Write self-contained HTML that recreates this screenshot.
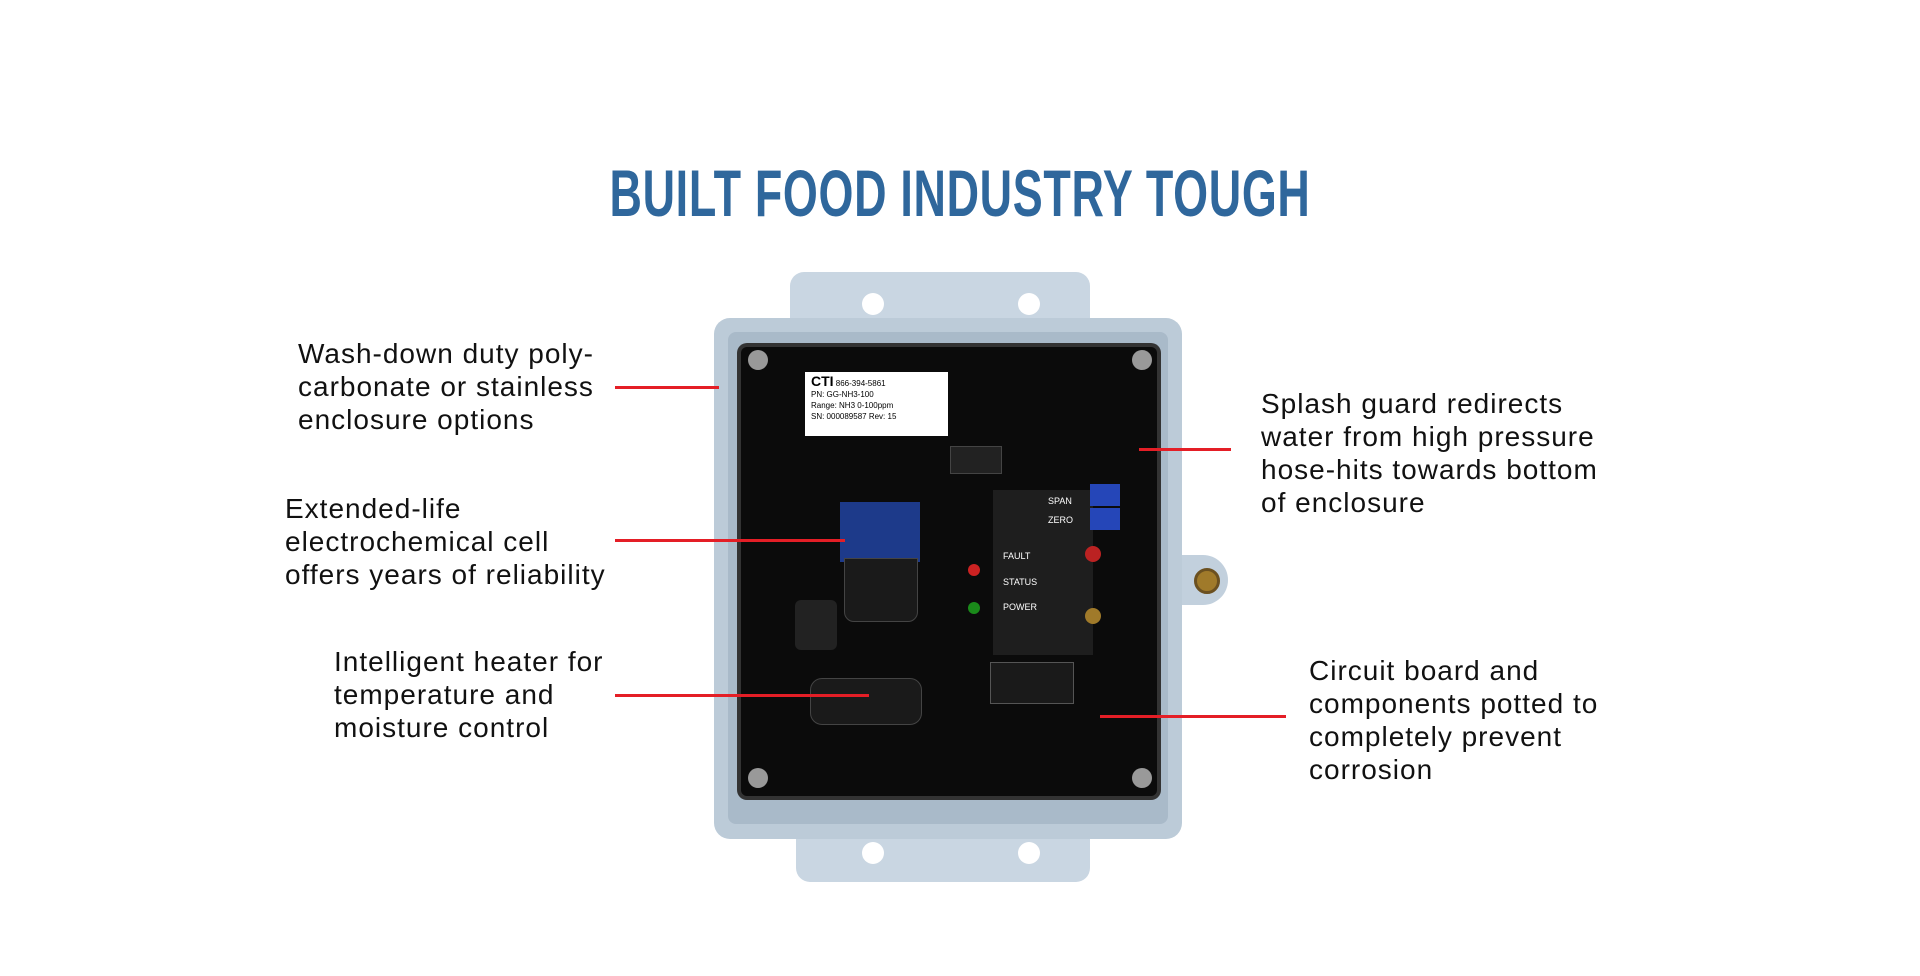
<!DOCTYPE html>
<html><head><meta charset="utf-8"><style>
body{margin:0;width:1920px;height:976px;background:#fff;position:relative;overflow:hidden;font-family:"Liberation Sans",sans-serif}
.t{position:absolute;font-size:28px;line-height:33px;color:#111;white-space:nowrap;letter-spacing:1px}
.r{position:absolute;height:3px;background:#e41e26}
.a{position:absolute}
</style></head><body>
<div class="a" style="left:0;width:1920px;top:155px;text-align:center;font-family:'Liberation Sans Narrow','Liberation Sans',sans-serif;font-size:66px;font-weight:bold;color:#2f679c;transform:scaleX(0.68);letter-spacing:1px">BUILT FOOD INDUSTRY TOUGH</div>

<!-- enclosure -->
<div class="a" style="left:790px;top:272px;width:300px;height:70px;background:#c9d6e2;border-radius:14px 14px 0 0"></div>
<div class="a" style="left:862px;top:293px;width:22px;height:22px;background:#fff;border-radius:50%"></div>
<div class="a" style="left:1018px;top:293px;width:22px;height:22px;background:#fff;border-radius:50%"></div>
<div class="a" style="left:796px;top:820px;width:294px;height:62px;background:#c9d6e2;border-radius:0 0 14px 14px"></div>
<div class="a" style="left:862px;top:842px;width:22px;height:22px;background:#fff;border-radius:50%"></div>
<div class="a" style="left:1018px;top:842px;width:22px;height:22px;background:#fff;border-radius:50%"></div>
<div class="a" style="left:1170px;top:555px;width:58px;height:50px;background:#c2d0dd;border-radius:0 25px 25px 0"></div>
<div class="a" style="left:1194px;top:568px;width:20px;height:20px;background:#a07a2a;border-radius:50%;border:3px solid #6b5020"></div>
<div class="a" style="left:714px;top:318px;width:468px;height:521px;background:#bccbd8;border-radius:16px"></div>
<div class="a" style="left:728px;top:332px;width:440px;height:492px;background:#a9bac9;border-radius:8px"></div>
<div class="a" style="left:741px;top:347px;width:416px;height:449px;background:#0b0b0b;border-radius:6px;box-shadow:0 0 0 4px #333"></div>
<div class="a" style="left:748px;top:350px;width:20px;height:20px;background:#999;border-radius:50%"></div>
<div class="a" style="left:1132px;top:350px;width:20px;height:20px;background:#999;border-radius:50%"></div>
<div class="a" style="left:748px;top:768px;width:20px;height:20px;background:#999;border-radius:50%"></div>
<div class="a" style="left:1132px;top:768px;width:20px;height:20px;background:#999;border-radius:50%"></div>
<!-- label -->
<div class="a" style="left:805px;top:372px;width:143px;height:64px;background:#fff;font-size:8px;line-height:11px;padding:4px 6px;box-sizing:border-box;color:#000"><b style="font-size:14px">CTI</b> 866-394-5861<br>PN: GG-NH3-100<br>Range: NH3 0-100ppm<br>SN: 000089587 Rev: 15</div>
<!-- sensor -->
<div class="a" style="left:840px;top:502px;width:80px;height:60px;background:#1d3a8a"></div>
<div class="a" style="left:844px;top:558px;width:72px;height:62px;background:#1a1a1a;border-radius:0 0 10px 10px;border:1px solid #444"></div>
<div class="a" style="left:795px;top:600px;width:42px;height:50px;background:#222;border-radius:6px"></div>
<div class="a" style="left:810px;top:678px;width:110px;height:45px;background:#1a1a1a;border-radius:12px;border:1px solid #444"></div>
<div class="a" style="left:950px;top:446px;width:50px;height:26px;background:#222;border:1px solid #444"></div>
<!-- module -->
<div class="a" style="left:993px;top:490px;width:100px;height:165px;background:#1e1e1e;color:#fff;font-size:9px;line-height:12px"><div style="position:absolute;left:55px;top:5px">SPAN</div><div style="position:absolute;left:55px;top:24px">ZERO</div><div style="position:absolute;left:10px;top:60px">FAULT</div><div style="position:absolute;left:10px;top:86px">STATUS</div><div style="position:absolute;left:10px;top:111px">POWER</div></div>
<div class="a" style="left:1090px;top:484px;width:30px;height:22px;background:#2546b8"></div>
<div class="a" style="left:1090px;top:508px;width:30px;height:22px;background:#2546b8"></div>
<div class="a" style="left:1085px;top:546px;width:16px;height:16px;background:#b22;border-radius:50%"></div>
<div class="a" style="left:1085px;top:608px;width:16px;height:16px;background:#a07a2a;border-radius:50%"></div>
<div class="a" style="left:968px;top:564px;width:12px;height:12px;background:#c22;border-radius:50%"></div>
<div class="a" style="left:968px;top:602px;width:12px;height:12px;background:#1a8a1a;border-radius:50%"></div>
<div class="a" style="left:990px;top:662px;width:82px;height:40px;background:#1a1a1a;border:1px solid #555"></div>

<!-- lines -->
<div class="r" style="left:615px;width:104px;top:386px"></div>
<div class="r" style="left:615px;width:230px;top:539px"></div>
<div class="r" style="left:615px;width:254px;top:694px"></div>
<div class="r" style="left:1139px;width:92px;top:448px"></div>
<div class="r" style="left:1100px;width:186px;top:715px"></div>

<div class="t" style="left:298px;top:337px">Wash-down duty poly-<br>carbonate or stainless<br>enclosure options</div>
<div class="t" style="left:285px;top:492px">Extended-life<br>electrochemical cell<br>offers years of reliability</div>
<div class="t" style="left:334px;top:645px">Intelligent heater for<br>temperature and<br>moisture control</div>
<div class="t" style="left:1261px;top:387px">Splash guard redirects<br>water from high pressure<br>hose-hits towards bottom<br>of enclosure</div>
<div class="t" style="left:1309px;top:654px">Circuit board and<br>components potted to<br>completely prevent<br>corrosion</div>
</body></html>
